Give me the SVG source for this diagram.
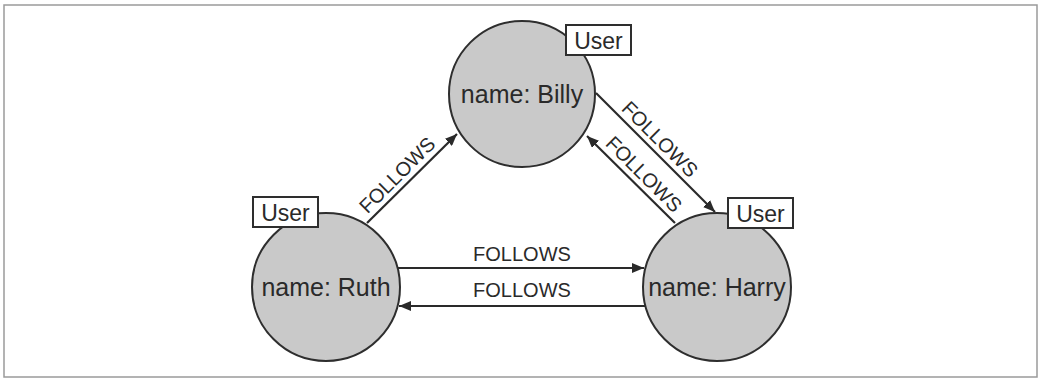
<svg xmlns="http://www.w3.org/2000/svg" width="1041" height="378" viewBox="0 0 1041 378">
<defs>
<marker id="arr" viewBox="0 0 12 10" refX="12" refY="5" markerWidth="12" markerHeight="10" markerUnits="userSpaceOnUse" orient="auto">
<path d="M0,0 L12,5 L0,10 Z" fill="#2a2a2a"/>
</marker>
<style>
.node{fill:#c9c9c9;stroke:#2e2e2e;stroke-width:2}
.name{font-family:"Liberation Sans",Arial,sans-serif;font-size:25px;fill:#2a2a2a;text-anchor:middle}
.tag{fill:#fff;stroke:#2e2e2e;stroke-width:2}
.tagt{font-family:"Liberation Sans",Arial,sans-serif;font-size:23px;fill:#2a2a2a;text-anchor:middle}
.edge{stroke:#2a2a2a;stroke-width:2.2;fill:none;marker-end:url(#arr)}
.lbl{font-family:"Liberation Sans",Arial,sans-serif;font-size:20px;fill:#2a2a2a;text-anchor:middle}
</style>
</defs>
<rect width="1041" height="378" fill="#fff"/>
<rect x="4" y="5" width="1033" height="372" fill="none" stroke="#9a9a9a" stroke-width="1.5"/>
<g id="connectors">
<line class="edge" x1="367" y1="223" x2="457" y2="134"/>
<line class="edge" x1="596" y1="93" x2="715" y2="212"/>
<line class="edge" x1="675" y1="223" x2="587" y2="136"/>
<line class="edge" x1="398" y1="268" x2="644" y2="268"/>
<line class="edge" x1="645" y1="306" x2="399" y2="306"/>
<text class="lbl" transform="translate(402,180) rotate(-45)">FOLLOWS</text>
<text class="lbl" transform="translate(655,144) rotate(45)">FOLLOWS</text>
<text class="lbl" transform="translate(639,179) rotate(45)">FOLLOWS</text>
<text class="lbl" x="522" y="261">FOLLOWS</text>
<text class="lbl" x="522" y="297">FOLLOWS</text>
</g>
<g id="billy">
<circle class="node" cx="522" cy="94" r="73"/>
<text class="name" x="522" y="103">name: Billy</text>
<rect class="tag" x="566" y="25" width="65" height="30"/>
<text class="tagt" x="598.5" y="49">User</text>
</g>
<g id="ruth">
<circle class="node" cx="326" cy="287" r="74"/>
<text class="name" x="326" y="296">name: Ruth</text>
<rect class="tag" x="253" y="197" width="65" height="30"/>
<text class="tagt" x="285.5" y="221">User</text>
</g>
<g id="harry">
<circle class="node" cx="717" cy="287" r="74"/>
<text class="name" x="717" y="296">name: Harry</text>
<rect class="tag" x="728" y="198" width="65" height="30"/>
<text class="tagt" x="760.5" y="222">User</text>
</g>
</svg>
